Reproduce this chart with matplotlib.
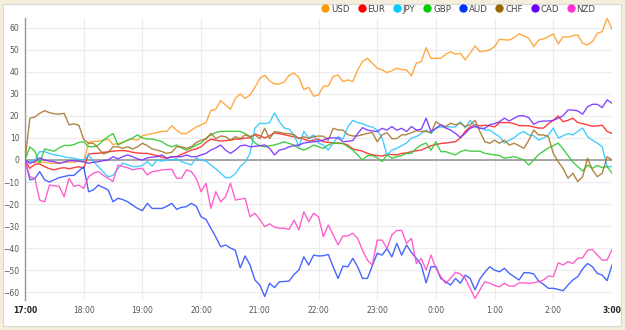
import matplotlib
matplotlib.use("Agg")
import matplotlib.pyplot as plt
from matplotlib.patches import Rectangle
from matplotlib.lines import Line2D

# x axis: 17:00 -> 3:00, one reading every 5 minutes
hour_labels = ['17:00', '18:00', '19:00', '20:00', '21:00', '22:00', '23:00',
               '0:00', '1:00', '2:00', '3:00']
step_minutes = 5
currencies = ['USD', 'EUR', 'JPY', 'GBP', 'AUD', 'CHF', 'CAD', 'NZD']

usd = [0, -0.5, -1, -1, -1, -1.5, -1.5, -1.5, -1, -1, -1, -0.5,
       -1, 8, 8.5, 8.5, 9, 9.5, 7, 7.5, 8, 9, 9.5, 9,
       11, 11.5, 12, 12.5, 13, 13, 15.5, 13.5, 12, 12, 13.5, 15,
       16, 17, 22.5, 23, 27, 25, 23, 28, 30, 28, 29.5, 33,
       37, 38.5, 36, 34.5, 34.5, 35.5, 38.5, 39.5, 37.5, 32, 33, 29,
       29.5, 33.6, 33.6, 37.9, 38.6, 35.6, 36.4, 35.6, 40.9, 44.7, 46.2, 44,
       41.7, 40.9, 39.7, 40.5, 41.7, 41, 40.9, 38.2, 44, 44.7, 51, 46.2,
       46.2, 46.2, 48, 49.2, 48, 48.5, 45.5, 48.5, 51.8, 49.2, 49.5, 50,
       51.5, 54.8, 54.6, 54.5, 55.5, 57.3, 56.3, 55.3, 51.5, 54.5, 55, 56,
       57.3, 52.7, 56, 55.8, 56.5, 56.8, 53, 52.3, 53.8, 57.6, 58.3, 64.4,
       59.4]

eur = [0, -3.8, -2, -1.8, -3, -4, -4.5, -3.8, -3.5, -4, -3.5, -3,
       -3.8, 2.7, 3, 3, 3.5, 3.7, 4, 4.2, 4.3, 4, 3.5, 3.2,
       3, 3, 2.5, 2, 1.2, 0.8, 1.5, 1.5, 2.6, 3.5, 4.5, 5,
       6, 8, 9.5, 9, 8.6, 8.8, 9, 9.5, 9.5, 10, 10, 11.8,
       11, 10, 11, 12.3, 12, 11.5, 11, 10.5, 10, 9.5, 8.6, 9,
       9.5, 8.3, 8, 7.7, 7.7, 7.5, 6.8, 5, 4.5, 4, 3, 2.3,
       2, 1.8, 2.5, 2.5, 2.3, 3, 3.2, 3.8, 4.2, 4.5, 5.5, 6.5,
       7, 7.5, 7.7, 8, 8.3, 10, 13, 15, 16, 15.5, 15.8, 15.5,
       15, 17, 17, 17, 16.5, 15.6, 15.6, 15.5, 15, 14.5, 14.5, 16.5,
       18, 20, 17.4, 18, 19, 17, 16.5, 16, 15.3, 15.5, 15.8, 13,
       12]

jpy = [0, -0.7, 0, 3.8, 3.8, 3, 2.3, 2, 1.5, 1, 0.8, 0.3,
       0, 2.3, -0.7, -3, -5.5, -7.6, -7, -4, -1.4, -2.2, -3, -3,
       -2.5, -0.7, -2.8, 0, -0.5, 0, 0, 0.6, -0.8, -1.5, -2.2, 0.8,
       0, -0.5, -2.3, -4, -6, -8, -8, -6.2, -3, -1, 3, 14.5,
       16.7, 16.5, 17, 21.4, 17.4, 14.5, 14, 11.4, 6, 13, 10, 11.4,
       7.7, 6.8, 4.5, 7.7, 10.6, 9.5, 15, 18, 17, 16.5, 15.5, 15,
       13.6, 10, 2.3, 4.5, 5.3, 6.5, 7.7, 10, 10.6, 12, 13.6, 12,
       14.5, 15, 15, 15, 15, 17.4, 14.5, 18, 15.5, 14.5, 13.6, 13.6,
       12, 10.6, 7.7, 9, 10, 12, 12.9, 11.4, 11, 9, 10, 11.4,
       14.5, 10, 11, 12, 11.4, 13, 14.5, 10.6, 9, 7.7, 6, -3,
       -3]

gbp = [0, 6, 4, -1.5, 5, 4.5, 4, 5.5, 6.6, 6.6, 7, 8,
       8.3, 6, 6, 6.8, 9, 10.6, 12, 6.8, 8, 9, 10, 11.4,
       10, 9.5, 9.5, 9, 8.3, 6.8, 6, 6.8, 5.5, 4.5, 5.5, 6.8,
       7.7, 10, 11.4, 12.5, 13, 13, 13, 13, 13, 12, 10.6, 7.7,
       6.5, 6, 6.5, 6.8, 7.5, 8.3, 7.5, 6.8, 5.3, 4.5, 5.5, 6.8,
       6, 5.3, 6.8, 7.8, 7.5, 7.5, 6, 4.5, 2.3, -0.1, 2, 2,
       1, -0.7, 2.3, 0.8, 1.5, 2, 3, 3, 5.3, 6.8, 7.7, 4.5,
       8.3, 3.8, 3.8, 3, 2.3, 3.8, 4.5, 4, 4, 4, 3, 2.7,
       2.3, 2, 0.8, 1.2, 1.5, 0.8, 0, -2.3, 0, 2.5, 4, 5.5,
       6.5, 7.7, 5, 2, -1, -3, -5, -2.3, -3.8, -2.5, -3.5, -3,
       -6]

aud = [0, -9, -8.5, -5.3, -9, -10, -9, -8, -7.5, -7, -7, -5,
       -3, -14.4, -13.6, -11.4, -12.5, -13.6, -19, -17.4, -18, -19, -20.5, -22,
       -23, -19.7, -22, -22, -22, -21, -19.7, -22.4, -21.5, -21.2, -19.7, -21,
       -25.8, -27, -31, -35, -39.4, -38.6, -40, -41, -49, -43.6, -47.7, -54.5,
       -56.8, -62, -56, -58, -55.3, -55.2, -55, -52, -50, -44, -47.7, -43.2,
       -43.6, -43.5, -42.9, -48.5, -53.8, -48.2, -48.5, -44.7, -48.5, -53.8, -53.8, -48,
       -42.4, -43.2, -40.2, -44, -37.9, -43.2, -38.6, -42, -44.7, -47.7, -55.8, -48.5,
       -48.5, -53.8, -55.3, -56.8, -53.8, -56, -52.3, -53.8, -59, -54, -51, -48.5,
       -50, -50.8, -49.2, -51.5, -53, -54.5, -51.2, -51.2, -51.8, -55, -56.5, -58.3,
       -58.3, -58.8, -59.4, -56.8, -54.5, -53, -49.5, -47, -48.5, -51.5, -52.3, -54.8,
       -47.7]

chf = [0, 19, 19.5, 21.2, 22.4, 21.5, 21, 20.8, 21.2, 16, 16.4, 15.8,
       9.4, 7.6, 7.6, 5.3, 2.7, 3.5, 6, 6, 5.3, 6, 5, 6,
       7.6, 6.5, 5, 4.5, 3.8, 3, 3.5, 6, 6, 5.3, 6, 7.9,
       9, 9.4, 12.1, 9.7, 10.9, 10.6, 9, 10.6, 9.7, 11.4, 10.6, 11.4,
       9.7, 14.4, 9.7, 12.9, 12.6, 12.1, 12, 11.4, 9.7, 10.6, 9.7, 10.6,
       10.9, 10.8, 9, 14.4, 13.6, 13.6, 11.5, 10.9, 10.9, 11.5, 12.1, 12.5,
       8.3, 11.4, 12.4, 9.7, 9.7, 11.4, 11.5, 12.4, 13.3, 13, 13, 12.4,
       17.4, 15.9, 15.2, 16.7, 16, 16.7, 15.2, 16, 18, 12.9, 8.3, 7.6,
       9, 7.6, 9, 6.8, 7.6, 6.5, 5.3, 9, 13.6, 11.4, 11.4, 10.6,
       3, -0.8, -3.8, -8.3, -6, -9.8, -7.6, 0.8, -4.5, -7.6, -6, 1.5,
       0]

cad = [0, -1.5, -0.8, 1, 0, -0.5, -0.8, -1.5, -1, -0.3, -0.3, -0.5,
       -0.8, -1.5, -1, -0.8, -0.3, 0, 1.5, 0.5, 1.5, 2.3, 1.5, 0.5,
       0, 1, 1.3, 1.5, 2.3, 0.8, 1.5, 1.5, 1.5, 2.3, 1.5, 1.5,
       2.3, 3, 4.5, 5.5, 6.8, 4.5, 3, 4.5, 6.4, 6.8, 6, 6.2,
       6.5, 6.8, 5.3, 2.3, 4.5, 5, 6, 6.5, 6.8, 7.7, 8, 8.3,
       8.5, 9, 10, 10, 10, 8.3, 8.5, 8.8, 12, 14.7, 13.6, 13.2,
       12.9, 14.4, 13.6, 15.2, 13.5, 14.4, 12.9, 15.2, 13.6, 14, 19, 12.9,
       14.4, 16, 14.5, 13.6, 12.1, 10.2, 12.1, 14.4, 15.2, 14.4, 14.4, 16,
       16.5, 17.4, 19, 17.7, 19, 20.1, 20.1, 19.2, 16.2, 17.4, 17.7, 17.7,
       18, 19, 20.1, 22.7, 22.7, 22.3, 20.8, 24.2, 25.3, 25.3, 23.8, 27.3,
       25.8]

nzd = [0, -7.6, -8.3, -18.2, -19, -11.4, -11.7, -12, -16.7, -8.3, -12, -11.4,
       -12.9, -7.6, -6, -5.3, -7, -8.3, -9.8, -2.3, -3, -3.5, -4.5, -4,
       -3.8, -6.8, -5.3, -5, -4.5, -4.3, -4.2, -8.3, -8.3, -4.5, -5.3, -8.3,
       -14.4, -10.6, -22, -14.4, -19, -16.7, -10.6, -18.2, -17.8, -17.4, -25.8, -24.2,
       -27, -30.3, -29, -30.5, -31, -31, -31.5, -27.3, -31.8, -23.5, -28, -24.2,
       -25.8, -34.8, -29.5, -34, -38.6, -34.5, -34.5, -33.3, -35.6, -41, -45.5, -47.7,
       -36.4, -36.4, -40.2, -34, -32, -32, -37.9, -35.6, -47, -44.7, -50, -43.2,
       -49.2, -53, -56, -53.8, -51, -51.8, -53.8, -58.3, -62.9, -59, -55.3, -56,
       -57, -57.6, -56, -57.3, -57.3, -55.8, -55.8, -56, -55.8, -55.3, -54.5, -52.7,
       -53, -46.7, -47.7, -46.2, -47, -44.7, -44.4, -41, -40.6, -43.2, -45.5, -45.5,
       -40.6]

series = [usd, eur, jpy, gbp, aud, chf, cad, nzd]
line_colors = ['#ffa030', '#ff2a2a', '#33c8ff', '#33c833', '#3355ff', '#a8772f', '#7a33ff', '#ff4fc8']
dot_colors = ['#ff9900', '#ff0000', '#00ccff', '#00cc00', '#0033ff', '#996600', '#6600ff', '#ff33cc']

fig = plt.figure(figsize=(6.25, 3.3), dpi=100, facecolor='#f4eedb')
# white panel behind the chart
fig.patches.append(Rectangle((3 / 625, 4 / 330), 618 / 625, 322 / 330, transform=fig.transFigure,
                             facecolor='white', edgecolor='#d9d9d9', lw=0.8, zorder=-5))

ax = fig.add_axes([25 / 625, 30 / 330, 587 / 625, 282 / 330])
ax.set_facecolor('none')
ax.set_zorder(2)

for vals, col in zip(series, line_colors):
    xs = [i * step_minutes / 60 for i in range(len(vals))]
    ax.plot(xs, vals, color=col, lw=1.0, alpha=0.9, zorder=3)

ax.axhline(0, color='#a0a0a0', lw=1.3, zorder=2)

ax.set_xlim(0, len(hour_labels) - 1)
ax.set_ylim(-63.6, 64.5)
ax.set_yticks(range(-60, 61, 10))
ax.set_xticks(range(len(hour_labels)))
ax.set_xticklabels(hour_labels)
ax.grid(True, color='#ececec', lw=0.8, zorder=1)

ax.tick_params(axis='both', length=0, labelsize=5.5, labelcolor='#555555')
ax.tick_params(axis='y', pad=4)
ax.tick_params(axis='x', pad=4)
for i, lab in enumerate(ax.get_xticklabels()):
    if i == 0 or i == len(hour_labels) - 1:
        lab.set_fontweight('bold')
        lab.set_color('#222222')

for side in ['top', 'right', 'bottom']:
    ax.spines[side].set_visible(False)
ax.spines['left'].set_color('#999999')
ax.spines['left'].set_linewidth(1.0)

handles = [Line2D([], [], ls='none', marker='o', markersize=5, color=c) for c in dot_colors]
leg = fig.legend(handles, currencies, loc='center right', bbox_to_anchor=(0.965, 1 - 9 / 330), ncol=8,
                 frameon=False, fontsize=6.2, handlelength=1.0, handletextpad=0.15, columnspacing=0.9,
                 labelcolor='#444444')
leg.set_zorder(3)

fig.savefig('out.png', dpi=100, facecolor=fig.get_facecolor())
